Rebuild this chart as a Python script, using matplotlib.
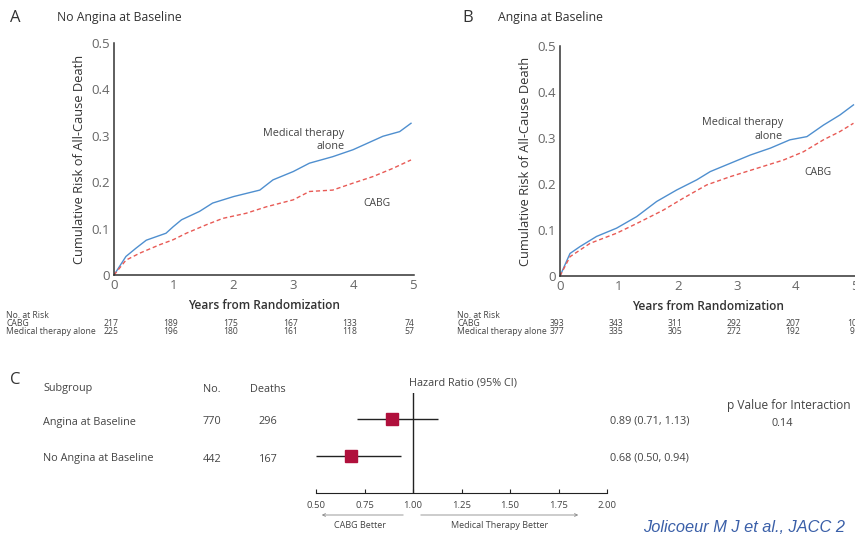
import matplotlib.pyplot as plt
import matplotlib.transforms as mtransforms
from matplotlib.patches import FancyArrowPatch

plt.rcParams['font.family'] = ['Open Sans', 'DejaVu Sans']

W, H = 855, 537

# Panel A - No angina at baseline
a_med_t = [0, 0.2, 0.37, 0.54, 0.87, 0.99, 1.13, 1.43, 1.65, 2.0, 2.44, 2.66, 3.0, 3.27, 3.66, 4.0, 4.5, 4.78, 4.97]
a_med_y = [0, 0.04, 0.058, 0.075, 0.09, 0.104, 0.119, 0.137, 0.155, 0.169, 0.183, 0.205, 0.223, 0.241, 0.255, 0.27, 0.299, 0.309, 0.327]
a_cabg_t = [0, 0.2, 0.43, 0.76, 0.99, 1.21, 1.54, 1.82, 2.21, 2.55, 3.0, 3.27, 3.66, 4.0, 4.33, 4.67, 4.97]
a_cabg_y = [0, 0.032, 0.047, 0.065, 0.076, 0.09, 0.108, 0.122, 0.133, 0.147, 0.162, 0.18, 0.183, 0.198, 0.212, 0.23, 0.248]

# Panel B - Angina at baseline
b_med_t = [0, 0.17, 0.34, 0.62, 0.96, 1.3, 1.64, 1.98, 2.32, 2.55, 2.89, 3.23, 3.57, 3.9, 4.19, 4.47, 4.75, 4.98]
b_med_y = [0, 0.049, 0.064, 0.086, 0.104, 0.129, 0.162, 0.187, 0.209, 0.227, 0.245, 0.263, 0.278, 0.296, 0.303, 0.328, 0.35, 0.372]
b_cabg_t = [0, 0.17, 0.51, 0.96, 1.3, 1.75, 2.09, 2.49, 2.89, 3.34, 3.79, 4.13, 4.47, 4.75, 4.98]
b_cabg_y = [0, 0.042, 0.071, 0.093, 0.114, 0.143, 0.169, 0.198, 0.216, 0.234, 0.252, 0.27, 0.296, 0.314, 0.332]

# numbers at risk
a_risk_cabg = [217, 189, 175, 167, 133, 74]
a_risk_med = [225, 196, 180, 161, 118, 57]
b_risk_cabg = [393, 343, 311, 292, 207, 10]
b_risk_med = [377, 335, 305, 272, 192, 9]

# Panel C - forest plot
subgroups = ['Angina at Baseline', 'No Angina at Baseline']
n_pts = [770, 442]
deaths = [296, 167]
hr = [0.89, 0.68]
hr_lo = [0.71, 0.50]
hr_hi = [1.13, 0.94]
hr_text = ['0.89 (0.71, 1.13)', '0.68 (0.50, 0.94)']
p_interaction = '0.14'

BLUE = '#4f8fcf'
RED = '#e85a55'
SQ = '#b0103c'
TXT = '#444444'


def fx(x):
    return x / W


def fy(y):
    return 1 - y / H


def km_axes(left, right, top, bottom, xmax):
    ax = fig.add_axes([fx(left), fy(bottom), (right - left) / W, (bottom - top) / H])
    ax.set_xlim(0, xmax)
    ax.set_ylim(0, 0.5)
    ax.set_xticks(range(6))
    ax.set_yticks([0, 0.1, 0.2, 0.3, 0.4, 0.5])
    ax.set_yticklabels(['0', '0.1', '0.2', '0.3', '0.4', '0.5'])
    ax.tick_params(length=0, labelsize=9.5, labelcolor='#666666', pad=3)
    for s in ['top', 'right']:
        ax.spines[s].set_visible(False)
    for s in ['left', 'bottom']:
        ax.spines[s].set_color('#333333')
        ax.spines[s].set_linewidth(1.1)
    ax.set_ylabel('Cumulative Risk of All-Cause Death', fontsize=9.3, color='#333333', labelpad=4)
    ax.set_xlabel('Years from Randomization', fontsize=8.6, color='#333333', labelpad=5, fontweight='semibold')
    return ax


def risk_table(ax, x0, cabg, med):
    fig.text(fx(x0), fy(315), 'No. at Risk', fontsize=6.2, color=TXT, va='center')
    fig.text(fx(x0), fy(324), 'CABG', fontsize=6.2, color=TXT, va='center')
    fig.text(fx(x0), fy(332), 'Medical therapy alone', fontsize=6.2, color=TXT, va='center')
    tr = mtransforms.blended_transform_factory(ax.transData, fig.transFigure)
    for i in range(6):
        fig.text(i - 0.05, fy(324), str(cabg[i]), transform=tr, fontsize=6.2, color=TXT, ha='center', va='center')
        fig.text(i - 0.05, fy(332), str(med[i]), transform=tr, fontsize=6.2, color=TXT, ha='center', va='center')


fig = plt.figure(figsize=(W / 100, H / 100), dpi=100)

# ---- Panel A
axA = km_axes(114, 414, 43, 275, 5.02)
axA.plot(a_med_t, a_med_y, color=BLUE, lw=1.0)
axA.plot(a_cabg_t, a_cabg_y, color=RED, lw=1.0, dashes=(3, 2))
axA.text(3.86, 0.306, 'Medical therapy', fontsize=7.8, color=TXT, ha='right', va='center')
axA.text(3.86, 0.277, 'alone', fontsize=7.8, color=TXT, ha='right', va='center')
axA.text(4.4, 0.155, 'CABG', fontsize=7.5, color=TXT, ha='center', va='center')
fig.text(fx(10), fy(18), 'A', fontsize=12, color='#333333', va='center')
fig.text(fx(57), fy(18), 'No Angina at Baseline', fontsize=8.8, color='#333333', va='center')
risk_table(axA, 6, a_risk_cabg, a_risk_med)

# ---- Panel B
axB = km_axes(560, 857, 46, 276, 5.04)
axB.plot(b_med_t, b_med_y, color=BLUE, lw=1.0)
axB.plot(b_cabg_t, b_cabg_y, color=RED, lw=1.0, dashes=(3, 2))
axB.text(3.78, 0.333, 'Medical therapy', fontsize=7.8, color=TXT, ha='right', va='center')
axB.text(3.78, 0.303, 'alone', fontsize=7.8, color=TXT, ha='right', va='center')
axB.text(4.37, 0.224, 'CABG', fontsize=7.5, color=TXT, ha='center', va='center')
fig.text(fx(462), fy(18), 'B', fontsize=12, color='#333333', va='center')
fig.text(fx(498), fy(18), 'Angina at Baseline', fontsize=8.8, color='#333333', va='center')
risk_table(axB, 457, b_risk_cabg, b_risk_med)

# ---- Panel C
fig.text(fx(10), fy(380), 'C', fontsize=12, color='#333333', va='center')
fig.text(fx(43), fy(389), 'Subgroup', fontsize=7.8, color=TXT, va='center')
fig.text(fx(212), fy(389), 'No.', fontsize=7.8, color=TXT, va='center', ha='center')
fig.text(fx(268), fy(389), 'Deaths', fontsize=7.8, color=TXT, va='center', ha='center')
fig.text(fx(463), fy(383), 'Hazard Ratio (95% CI)', fontsize=7.8, color=TXT, va='center', ha='center')
fig.text(fx(789), fy(405), 'p Value for Interaction', fontsize=8.6, color=TXT, va='center', ha='center')
fig.text(fx(782), fy(423), p_interaction, fontsize=7.8, color=TXT, va='center', ha='center')

row_y = [419, 456]
for i in range(2):
    fig.text(fx(43), fy(row_y[i] + 3), subgroups[i], fontsize=7.8, color=TXT, va='center')
    fig.text(fx(212), fy(row_y[i] + 3), str(n_pts[i]), fontsize=7.8, color=TXT, va='center', ha='center')
    fig.text(fx(268), fy(row_y[i] + 3), str(deaths[i]), fontsize=7.8, color=TXT, va='center', ha='center')
    fig.text(fx(610), fy(row_y[i] + 2), hr_text[i], fontsize=7.8, color=TXT, va='center')

axC = fig.add_axes([fx(316), fy(493), (607 - 316) / W, 100 / H])
axC.set_xlim(0.5, 2.0)
axC.set_ylim(0, 1)
rows = [(493 - y) / 100 for y in row_y]
axC.hlines(rows, hr_lo, hr_hi, color='#222222', lw=1.0)
axC.plot(hr, rows, 's', color=SQ, markersize=8, markeredgecolor=SQ)
axC.axvline(1.0, color='#222222', lw=1.0)
axC.set_xticks([0.5, 0.75, 1.0, 1.25, 1.5, 1.75, 2.0])
axC.set_xticklabels(['0.50', '0.75', '1.00', '1.25', '1.50', '1.75', '2.00'])
axC.tick_params(axis='x', direction='in', length=3, labelsize=6.8, labelcolor=TXT, pad=6, color='#222222')
axC.set_yticks([])
for s in ['top', 'right', 'left']:
    axC.spines[s].set_visible(False)
axC.spines['bottom'].set_color('#222222')

fig.add_artist(FancyArrowPatch((fx(406), fy(515)), (fx(319), fy(515)), arrowstyle='->', mutation_scale=5,
                               color='#888888', lw=0.6, transform=fig.transFigure))
fig.add_artist(FancyArrowPatch((fx(418), fy(515)), (fx(581), fy(515)), arrowstyle='->', mutation_scale=5,
                               color='#888888', lw=0.6, transform=fig.transFigure))
fig.text(fx(360), fy(525), 'CABG Better', fontsize=6.5, color=TXT, ha='center', va='center')
fig.text(fx(500), fy(525), 'Medical Therapy Better', fontsize=6.5, color=TXT, ha='center', va='center')

fig.text(fx(643), fy(527), 'Jolicoeur M J et al., JACC 2', fontsize=11.8, color='#3a5fa8',
         style='italic', family=['Liberation Sans', 'DejaVu Sans'], va='center')

fig.savefig('out.png', dpi=100)
